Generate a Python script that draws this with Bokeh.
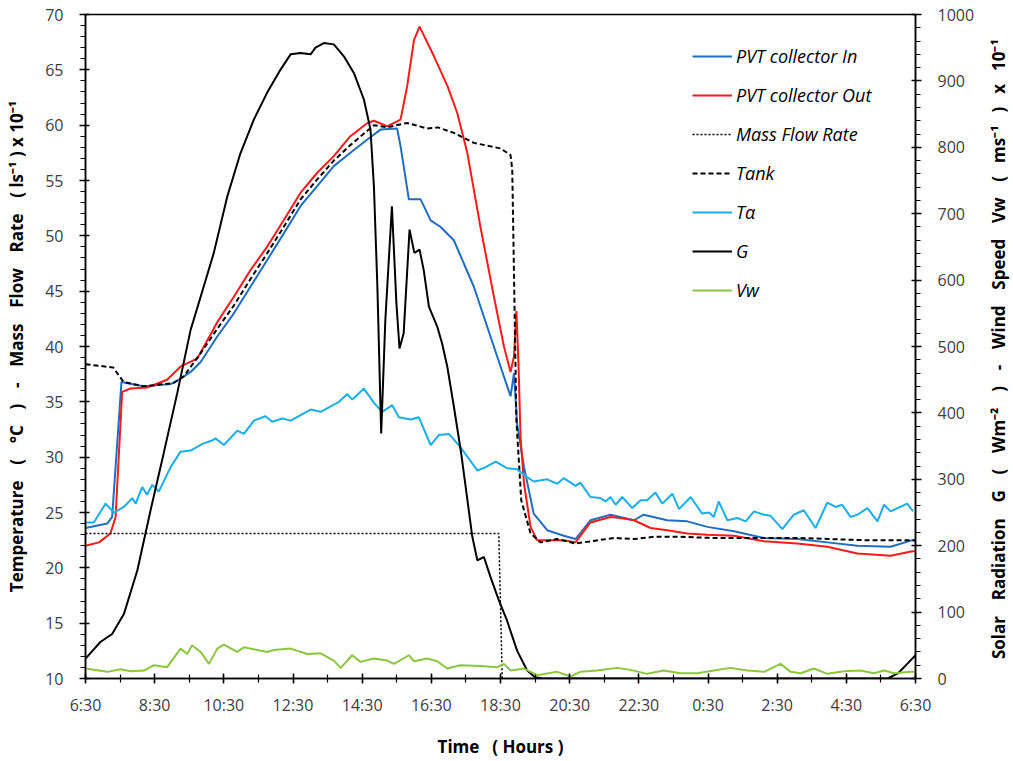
import math
from bokeh.plotting import figure
from bokeh.layouts import row
from bokeh.models import (Range1d, LinearAxis, FixedTicker, SingleIntervalTicker,
                          CustomJSTickFormatter, Legend, LegendItem)
from bokeh.core.properties import value
from bokeh.embed import file_html
from bokeh.resources import INLINE

# ---------------- data (time in hours after 6:30) ----------------
x_ticks = [0, 2, 4, 6, 8, 10, 12, 14, 16, 18, 20, 22, 24]
x_tick_labels = ["6:30", "8:30", "10:30", "12:30", "14:30", "16:30", "18:30",
                 "20:30", "22:30", "0:30", "2:30", "4:30", "6:30"]

pvt_in_t = [0, 0.63, 0.77, 1.04, 1.68, 2.46, 2.75, 3.04, 3.33, 3.81, 4.29, 4.77, 5.25, 5.73,
            6.22, 6.70, 7.18, 7.66, 8.15, 8.53, 9.01, 9.11, 9.35, 9.69, 9.98, 10.27, 10.65,
            11.23, 11.71, 12.29, 12.39, 12.48, 12.68, 12.96, 13.35, 13.83, 14.17, 14.60,
            15.18, 15.86, 16.14, 16.82, 17.40, 17.98, 18.75, 19.62, 20.58, 21.45, 22.32,
            23.28, 23.91, 24]
pvt_in_v = [23.6, 24.0, 24.6, 36.8, 36.4, 36.6, 37.1, 37.7, 38.6, 40.9, 43.0, 45.4, 47.8, 50.2,
            52.7, 54.5, 56.3, 57.5, 58.7, 59.6, 59.7, 58.1, 53.3, 53.3, 51.4, 50.8, 49.6,
            45.4, 40.9, 35.5, 37.6, 33.0, 29.1, 24.9, 23.4, 22.9, 22.6, 24.3,
            24.8, 24.3, 24.8, 24.3, 24.2, 23.7, 23.3, 22.7, 22.6, 22.3, 22.0,
            21.9, 22.5, 22.4]

pvt_out_t = [0, 0.39, 0.72, 0.87, 1.06, 1.30, 1.78, 2.36, 2.75, 3.23, 3.81, 4.29, 4.77, 5.25,
             5.73, 6.22, 6.70, 7.18, 7.66, 8.15, 8.34, 8.72, 9.11, 9.30, 9.50, 9.66, 10.08,
             10.47, 10.75, 11.04, 11.42, 11.81, 12.10, 12.29, 12.39, 12.46, 12.52, 12.58,
             12.68, 12.87, 13.06, 13.83, 14.17, 14.60, 15.18, 15.47, 15.86, 16.34, 16.82,
             17.40, 17.98, 18.75, 19.62, 20.58, 21.45, 22.32, 23.28, 23.91, 24]
pvt_out_v = [22.0, 22.3, 23.1, 24.6, 35.9, 36.2, 36.3, 37.0, 38.2, 38.9, 42.2, 44.5, 46.9, 49.0,
             51.4, 53.9, 55.7, 57.2, 59.0, 60.2, 60.4, 59.9, 60.5, 63.5, 67.7, 68.9, 66.2,
             63.5, 61.1, 57.5, 50.8, 44.5, 40.0, 37.7, 39.1, 43.2, 38.5, 31.8,
             27.6, 23.7, 22.5, 22.5, 22.3, 24.1, 24.6, 24.5, 24.3, 23.6, 23.4,
             23.1, 23.0, 22.9, 22.4, 22.2, 21.9, 21.3, 21.1, 21.5, 21.5]

flow_t = [0, 11.95, 12.05]
flow_v = [23.1, 23.1, 10.0]

tank_t = [0, 0.8, 1.1, 1.68, 2.55, 2.84, 3.33, 3.81, 4.29, 4.77, 5.25, 5.73, 6.22, 6.70,
          7.18, 7.66, 8.15, 8.34, 8.72, 9.30, 9.88, 10.19, 10.65, 11.23, 12.00, 12.29,
          12.34, 12.46, 12.60, 12.87, 13.16, 13.64, 14.17, 15.28, 15.86, 16.43, 17.20,
          18.17, 19.62, 20.58, 21.54, 22.51, 23.91, 24]
tank_v = [38.4, 38.1, 36.8, 36.4, 36.7, 37.3, 39.4, 41.6, 43.7, 46.1, 48.4, 50.8, 53.3, 55.1,
          56.8, 58.2, 59.5, 60.0, 59.8, 60.2, 59.7, 59.8, 59.3, 58.4, 57.9, 57.3,
          56.0, 33.3, 26.1, 23.1, 22.3, 22.6, 22.2, 22.7, 22.6, 22.8, 22.8,
          22.7, 22.7, 22.7, 22.6, 22.5, 22.5, 22.5]

ta_t = [0, 0.24, 0.58, 0.82, 1.11, 1.35, 1.45, 1.64, 1.78, 1.93, 2.12, 2.46, 2.75, 3.04,
        3.38, 3.66, 3.76, 4.00, 4.39, 4.58, 4.87, 5.20, 5.40, 5.69, 5.93, 6.51, 6.80, 7.33,
        7.57, 7.71, 8.05, 8.34, 8.58, 8.87, 9.06, 9.40, 9.64, 9.98, 10.22, 10.51, 10.84,
        11.33, 11.57, 11.86, 12.19, 12.48, 12.77, 12.96, 13.35, 13.64, 13.83, 14.17, 14.31,
        14.60, 14.89, 15.04, 15.18, 15.33, 15.52, 15.81, 16.05, 16.24, 16.48, 16.68, 16.97,
        17.16, 17.50, 17.83, 18.03, 18.17, 18.31, 18.56, 18.85, 19.09, 19.33, 19.62, 19.81,
        20.15, 20.48, 20.77, 21.11, 21.45, 21.69, 21.88, 22.12, 22.32, 22.61, 22.90, 23.09,
        23.28, 23.76, 23.93]
ta_v = [24.1, 24.1, 25.8, 25.0, 25.5, 26.3, 25.8, 27.3, 26.6, 27.5, 26.9, 29.1, 30.5, 30.6,
        31.2, 31.5, 31.7, 31.1, 32.4, 32.1, 33.3, 33.7, 33.2, 33.5, 33.3, 34.3, 34.1, 35.0,
        35.7, 35.2, 36.2, 34.9, 34.1, 34.7, 33.6, 33.4, 33.6, 31.1, 32.0, 32.1, 30.9,
        28.8, 29.1, 29.6, 29.0, 28.9, 28.2, 27.8, 28.0, 27.6, 28.1, 27.4, 27.7,
        26.4, 26.3, 26.0, 26.4, 25.7, 26.4, 25.4, 26.1, 26.1, 26.8, 25.8, 26.7,
        25.3, 26.4, 24.9, 25.0, 24.6, 26.0, 24.3, 24.5, 24.2, 25.1, 24.8, 24.7,
        23.5, 24.8, 25.2, 23.6, 25.9, 25.5, 25.7, 24.6, 24.8, 25.4, 24.2, 25.7,
        25.1, 25.8, 25.1]

g_t = [0, 0.43, 0.77, 1.11, 1.50, 1.88, 2.26, 2.65, 3.04, 3.33, 3.71, 4.10, 4.48, 4.87, 5.25,
       5.64, 5.93, 6.22, 6.51, 6.65, 6.89, 7.18, 7.47, 7.76, 8.05, 8.24, 8.34, 8.44, 8.55,
       8.67, 8.86, 8.99, 9.08, 9.20, 9.37, 9.51, 9.66, 9.78, 9.93, 10.17, 10.31, 10.46,
       10.65, 10.86, 11.04, 11.18, 11.33, 11.52, 11.71, 11.95, 12.19, 12.48, 12.77, 13.0,
       13.2, 23.2, 23.5, 23.76, 24]
g_v = [30, 55, 67, 97, 163, 253, 339, 429, 525, 575, 641, 726, 791, 842, 882,
       917, 940, 942, 940, 950, 957, 955, 937, 912, 872, 827, 741, 590, 369,
       540, 711, 565, 497, 520, 676, 641, 646, 615, 560, 530, 505, 470,
       410, 340, 270, 215, 178, 183, 153, 118, 87, 42, 12, 2,
       0, 0, 8, 22, 35]

vw_t = [0, 0.63, 1.01, 1.30, 1.69, 1.98, 2.36, 2.75, 2.94, 3.08, 3.33, 3.57, 3.81, 4.00,
        4.39, 4.58, 4.97, 5.25, 5.45, 5.93, 6.41, 6.80, 7.18, 7.38, 7.71, 7.95, 8.34, 8.72,
        8.92, 9.35, 9.50, 9.88, 10.17, 10.46, 10.84, 11.42, 11.90, 12.10, 12.29, 12.68,
        13.06, 13.64, 14.02, 14.31, 14.79, 15.37, 15.76, 16.24, 16.72, 17.20, 17.69, 18.17,
        18.65, 19.14, 19.62, 20.10, 20.39, 20.68, 21.06, 21.45, 21.93, 22.41, 22.80, 23.09,
        23.38, 23.86, 24]
vw_v = [15, 10, 14, 11, 12, 20, 17, 45, 37, 50, 40, 22, 45, 51,
        40, 47, 43, 40, 43, 45, 37, 38, 27, 16, 35, 25, 30, 27,
        22, 35, 26, 30, 26, 15, 20, 19, 17, 22, 12, 15,
        5, 10, 3, 10, 12, 16, 13, 7, 12, 8, 8, 12,
        16, 12, 10, 22, 10, 8, 15, 7, 11, 12, 8, 12,
        8, 10, 10]

# ---------------- figure ----------------
FONT = "Open Sans"
W = " \u2002"          # wide word gap
W2 = " \u2002\u2009"   # wider word gap
H_PX = 760
MAIN_W = 984
SIDE_W = 28
FL, FT, FR, FB = 85, 14, 915, 678   # frame edges in page pixels
p = figure(width=MAIN_W, height=H_PX, output_backend="svg", toolbar_location=None,
           x_range=Range1d(0, 24), y_range=Range1d(10, 70),
           min_border_left=FL, min_border_right=MAIN_W - FR, min_border_top=FT,
           min_border_bottom=H_PX - FB)
p.extra_y_ranges = {"right": Range1d(0, 1000)}
p.xgrid.visible = False
p.ygrid.visible = False
p.outline_line_color = "black"
p.outline_line_width = 1.5
p.background_fill_color = "white"
p.border_fill_color = "white"

c_in = "#1f6fc0"
c_out = "#ff1a1a"
c_ta = "#1aaeea"
c_vw = "#8cc63f"

r_in = p.line(pvt_in_t, pvt_in_v, line_color=c_in, line_width=2)
r_out = p.line(pvt_out_t, pvt_out_v, line_color=c_out, line_width=2)
r_flow = p.line(flow_t, flow_v, line_color="black", line_width=1.5, line_dash="2 2")
r_tank = p.line(tank_t, tank_v, line_color="black", line_width=2, line_dash="5 3")
r_ta = p.line(ta_t, ta_v, line_color=c_ta, line_width=2)
r_g = p.line(g_t, g_v, line_color="black", line_width=2, y_range_name="right")
r_vw = p.line(vw_t, vw_v, line_color=c_vw, line_width=2, y_range_name="right")

def style_axis(ax):
    ax.axis_line_color = "black"
    ax.axis_line_width = 1.5
    ax.major_tick_line_color = "black"
    ax.minor_tick_line_color = "black"
    ax.major_tick_line_width = 1.5
    ax.minor_tick_line_width = 1.2
    ax.major_label_text_font = FONT
    ax.major_label_text_font_size = "16px"
    ax.major_label_text_color = "#404040"
    ax.axis_label_text_font = FONT
    ax.axis_label_text_font_style = "bold"
    ax.axis_label_text_font_size = "17px"
    ax.axis_label_text_color = "black"

xa = p.xaxis[0]
style_axis(xa)
xa.ticker = FixedTicker(ticks=x_ticks, minor_ticks=list(range(0, 25)))
xa.formatter = CustomJSTickFormatter(args=dict(labels=x_tick_labels),
                                     code="return labels[Math.round(tick / 2)];")
xa.major_tick_in = 5
xa.major_tick_out = 5
xa.minor_tick_in = 4
xa.minor_tick_out = 4
xa.major_label_standoff = 10
xa.axis_label = "Time" + W + "( Hours )"
xa.axis_label_standoff = 16

ya = p.yaxis[0]
style_axis(ya)
ya.ticker = SingleIntervalTicker(interval=5, num_minor_ticks=5)
ya.major_tick_in = 4
ya.major_tick_out = 6
ya.minor_tick_in = 0
ya.minor_tick_out = 5
ya.major_label_standoff = 16
ya.axis_label = ("Temperature" + W2 + "(" + W2 + "°C" + W2 + ")" + W2 + "-" + W2 + "Mass" + W2 +
                 "Flow" + W2 + "Rate" + W2 + "( ls⁻¹ ) x 10⁻¹")
ya.axis_label_standoff = 14

ra = LinearAxis(y_range_name="right")
style_axis(ra)
ra.ticker = SingleIntervalTicker(interval=100, num_minor_ticks=5)
ra.major_tick_in = 4
ra.major_tick_out = 6
ra.minor_tick_in = 0
ra.minor_tick_out = 5
ra.major_label_standoff = 16
p.add_layout(ra, "right")

legend = Legend(items=[
    LegendItem(label="PVT collector In", renderers=[r_in]),
    LegendItem(label="PVT collector Out", renderers=[r_out]),
    LegendItem(label="Mass Flow Rate", renderers=[r_flow]),
    LegendItem(label="Tank", renderers=[r_tank]),
    LegendItem(label="Tα", renderers=[r_ta]),
    LegendItem(label="G", renderers=[r_g]),
    LegendItem(label="Vw", renderers=[r_vw]),
], location=(607, 376))
legend.label_text_font = FONT
legend.label_text_font_style = "italic"
legend.label_text_font_size = "18px"
legend.label_text_color = "black"
legend.glyph_width = 40
legend.glyph_height = 20
legend.label_height = 20
legend.label_standoff = 4
legend.spacing = 15
legend.padding = 0
legend.margin = 0
legend.border_line_alpha = 0
legend.background_fill_alpha = 0
p.add_layout(legend)

# right-hand axis title, drawn in a narrow side strip so it reads bottom-to-top
right_title = ("Solar" + W2 + "Radiation" + W2 + "G" + W2 + "(" + W2 + "Wm⁻²" + W2 + ")" + W2 +
               "-" + W2 + "Wind" + W2 + "Speed" + W2 + "Vw" + W2 + "(" + W + "ms⁻¹" + W + ")" +
               W + "x" + W + "10⁻¹")
side = figure(width=SIDE_W, height=H_PX, output_backend="svg", toolbar_location=None,
              x_range=Range1d(0, SIDE_W), y_range=Range1d(0, H_PX), min_border=0,
              x_axis_type=None, y_axis_type=None)
side.outline_line_color = None
side.xgrid.visible = False
side.ygrid.visible = False
side.text(x=[SIDE_W / 2], y=[H_PX - 352 - 31], text=[right_title], angle=math.pi / 2,
          text_align="center", text_baseline="middle", text_font=value(FONT),
          text_font_style="bold", text_font_size="17px", text_color="black")

layout = row(p, side, spacing=0)
open("out.html", "w").write(file_html(layout, INLINE))
